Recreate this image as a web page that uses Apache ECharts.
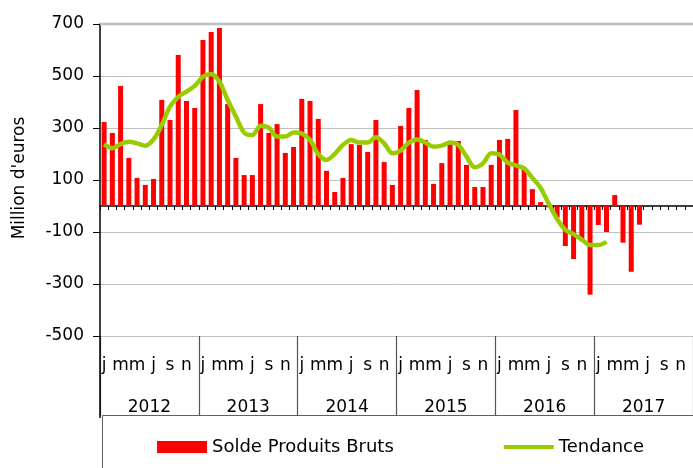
<!DOCTYPE html>
<html>
<head>
<meta charset="utf-8">
<script src="https://cdn.jsdelivr.net/npm/echarts@6/dist/echarts.min.js"></script>
<style>
  html, body { margin: 0; padding: 0; background: #fff; }
  #chart { width: 693px; height: 468px; }
</style>
</head>
<body>
<div id="chart"></div>
<script>
// one entry per month, Jan 2012 .. Dec 2017
const years = ['2012', '2013', '2014', '2015', '2016', '2017']
const monthLetters = ['j', '', 'm', '', 'm', '', 'j', '', 's', '', 'n', '']

const solde = [
  323, 281, 462, 185, 108, 81, 104, 408, 331, 581, 404, 377,
  638, 669, 685, 392, 185, 119, 119, 392, 281, 315, 204, 227,
  412, 404, 335, 135, 54, 108, 238, 235, 208, 331, 169, 81,
  308, 377, 446, 254, 85, 165, 238, 250, 158, 73, 73, 158,
  254, 258, 369, 146, 65, 15, -5, -45, -154, -204, -135, -341,
  -73, -100, 42, -141, -253, -72
]
const tendance = [
  238, 222, 238, 247, 241, 232, 256, 312, 382, 420, 440, 462,
  497, 508, 478, 408, 344, 282, 273, 309, 301, 267, 267, 283,
  279, 254, 200, 177, 200, 235, 254, 244, 244, 264, 241, 203,
  213, 244, 256, 244, 228, 232, 244, 235, 190, 149, 164, 203,
  198, 167, 156, 145, 108, 69, 8, -50, -92, -108, -129, -150,
  -150, -138
]

const months = years.flatMap(y => monthLetters.map((_, i) => `${y}-${String(i + 1).padStart(2, '0')}`))
const font = 'DejaVu Sans'

const chart = echarts.init(document.getElementById('chart'))
chart.setOption({
  animation: false,
  textStyle: { fontFamily: font },
  grid: { left: 100, top: 24, width: 594, height: 312 },
  legend: {
    left: 157, top: 438, padding: 0, itemWidth: 50, itemHeight: 12, itemGap: 110,
    textStyle: { fontFamily: font, fontSize: 18, color: '#000' },
    data: [
      { name: 'Solde Produits Bruts', icon: 'rect' },
      { name: 'Tendance', icon: 'path://M0,0L50,0L50,4L0,4Z', itemStyle: { color: '#99cc00' } }
    ]
  },
  xAxis: [
    {
      type: 'category', data: months, boundaryGap: true,
      axisLine: { onZero: true, lineStyle: { color: '#000', width: 1.5 } },
      axisTick: { show: true, interval: 0, length: 4, lineStyle: { color: '#000' } },
      axisLabel: { show: false }, splitLine: { show: false }
    },
    {
      type: 'category', data: months, position: 'bottom', boundaryGap: true,
      axisLine: { show: false, onZero: false }, axisTick: { show: false },
      axisLabel: {
        interval: 0, margin: 21, fontFamily: font, fontSize: 17, color: '#000',
        formatter: (v, i) => monthLetters[i % 12]
      }
    },
    {
      // year row: separators drawn as long ticks rising from the bottom of the label box
      type: 'category', data: years, position: 'bottom', offset: 80, boundaryGap: true,
      axisLine: { show: false, onZero: false },
      axisTick: { show: true, inside: true, interval: 0, length: 80, lineStyle: { color: '#555555', width: 1.2 } },
      axisLabel: { inside: true, interval: 0, margin: 0, fontFamily: font, fontSize: 17, color: '#000' }
    }
  ],
  yAxis: {
    type: 'value', min: -500, max: 700, interval: 200,
    axisLine: { show: true, lineStyle: { color: '#000', width: 1.5 } },
    axisTick: { show: true, length: 7, lineStyle: { color: '#000' } },
    axisLabel: { margin: 16, fontFamily: font, fontSize: 17, color: '#000' },
    splitLine: { lineStyle: { color: '#c0c0c0', width: 1 } }
  },
  graphic: [
    { type: 'line', shape: { x1: 100, y1: 24, x2: 693, y2: 24 }, style: { stroke: '#c0c0c0', lineWidth: 2.5 }, z: 1 },
    { type: 'line', shape: { x1: 100, y1: 336, x2: 100, y2: 418 }, style: { stroke: '#000', lineWidth: 1.5 }, z: 10 },
    { type: 'rect', shape: { x: 102.5, y: 415.5, width: 700, height: 100 }, style: { fill: 'none', stroke: '#606060', lineWidth: 1 } },
    {
      type: 'text', x: 20, y: 178, rotation: Math.PI / 2,
      style: { text: "Million d'euros", font: `17px "${font}"`, fill: '#000', align: 'center', verticalAlign: 'middle' }
    }
  ],
  series: [
    {
      name: 'Solde Produits Bruts', type: 'bar', data: solde, barWidth: 5,
      itemStyle: { color: '#ff0000' }
    },
    {
      name: 'Tendance', type: 'line', data: tendance, smooth: 0.3,
      showSymbol: false, symbol: 'none',
      lineStyle: { color: '#99cc00', width: 4.5 }, itemStyle: { color: '#99cc00' }
    }
  ]
})
</script>
</body>
</html>
